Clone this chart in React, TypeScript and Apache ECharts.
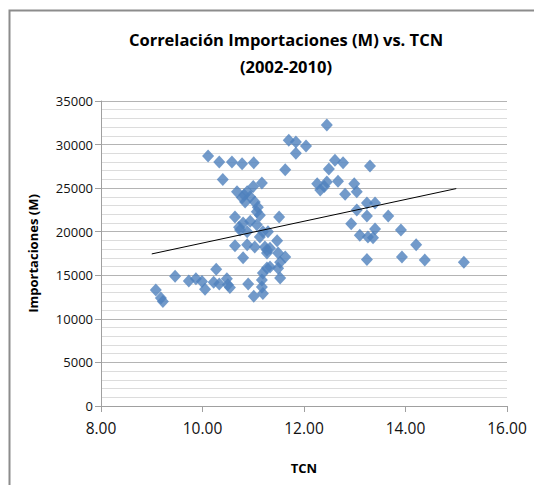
import React, { useEffect, useRef } from "react";
import * as echarts from "echarts";

const tcn: number[] = [
  9.08, 9.18, 9.22, 9.46, 9.73, 9.87, 9.99, 10.05, 10.27, 10.22,
  10.33, 10.48, 10.5, 10.54, 10.9, 11.01, 11.19, 11.17, 11.17, 11.19,
  11.27, 11.33, 11.49, 11.53, 11.53, 11.63, 11.49, 11.27, 11.27, 11.33,
  11.23, 11.47, 11.29, 11.51, 10.8, 10.64, 10.88, 11.03, 11.13, 10.74,
  10.88, 11.19, 11.07, 10.8, 10.94, 10.64, 11.13, 11.07, 11.09, 10.84,
  11.03, 10.82, 10.94, 10.88, 11.0, 11.17, 10.4, 10.11, 10.33, 10.58,
  10.78, 11.01, 11.63, 11.7, 11.84, 12.04, 11.84, 12.45, 12.61, 12.77,
  12.49, 13.3, 12.45, 12.67, 12.26, 12.32, 12.81, 12.99, 13.04, 13.24,
  13.4, 13.04, 13.24, 13.66, 12.93, 13.1, 13.26, 13.4, 13.36, 13.24,
  13.91, 14.21, 13.93, 14.38, 15.15, 12.4, 10.78, 10.68, 10.72
];
const importaciones: number[] = [
  13300, 12400, 12000, 14900, 14350, 14600, 14300, 13400, 15700, 14200,
  14000, 14600, 13900, 13600, 14000, 12600, 12900, 13650, 14450, 15250,
  15850, 15950, 15800, 14700, 16500, 17100, 17550, 17550, 17900, 18100,
  18250, 18950, 20000, 21700, 17000, 18400, 18500, 18250, 19400, 20200,
  20000, 20000, 20800, 21000, 21200, 21700, 21900, 22300, 22800, 23400,
  23400, 24200, 24000, 24600, 25200, 25600, 26000, 28700, 28000, 28000,
  27800, 27900, 27100, 30500, 30300, 29850, 29000, 32250, 28200, 27900,
  27200, 27550, 25700, 25800, 25500, 24800, 24300, 25500, 24600, 23300,
  23300, 22500, 21800, 21800, 20900, 19600, 19400, 20300, 19300, 16800,
  20200, 18500, 17100, 16750, 16500, 25200, 23900, 24600, 20500
];
const trendX: number[] = [9.0, 15.0];
const trendY: number[] = [17450, 24950];

const TITLE = "Correlación Importaciones (M) vs. TCN\n(2002-2010)";
const FONT = "'Open Sans', sans-serif";

export default function App() {
  const ref = useRef<HTMLDivElement>(null);
  useEffect(() => {
    if (!ref.current) return;
    const chart = echarts.init(ref.current, undefined, { renderer: "svg" });
    chart.setOption({
      animation: false,
      backgroundColor: "#ffffff",
      title: {
        text: TITLE,
        left: 281,
        textAlign: "center",
        top: 21,
        textStyle: {
          fontFamily: FONT,
          fontSize: 16.5,
          fontWeight: "bold",
          color: "#000",
          lineHeight: 27,
        },
      },
      graphic: [
        {
          type: "polyline",
          shape: { points: [[9.5, 485], [9.5, 10.5], [534, 10.5]] },
          style: { stroke: "#8c8c8c", lineWidth: 2, fill: "none" },
          silent: true,
        },
      ],
      grid: { left: 101, right: 27, top: 101, bottom: 79 },
      xAxis: {
        type: "value",
        min: 8,
        max: 16,
        interval: 2,
        name: "TCN",
        nameLocation: "middle",
        nameGap: 55,
        nameTextStyle: { fontFamily: FONT, fontSize: 13, fontWeight: "bold", color: "#000" },
        axisLine: { show: true, onZero: false, lineStyle: { color: "#a0a0a0" } },
        axisTick: { show: true, length: 6, lineStyle: { color: "#a0a0a0" } },
        axisLabel: {
          fontFamily: FONT,
          fontSize: 15.5,
          color: "#111",
          margin: 14,
          formatter: (v: number) => v.toFixed(2),
        },
        splitLine: { show: false },
      },
      yAxis: {
        type: "value",
        min: 0,
        max: 35000,
        interval: 5000,
        name: "Importaciones (M)",
        nameLocation: "middle",
        nameGap: 62,
        nameTextStyle: { fontFamily: FONT, fontSize: 13, fontWeight: "bold", color: "#000" },
        axisLine: { show: true, lineStyle: { color: "#a0a0a0" } },
        axisTick: { show: true, length: 6, lineStyle: { color: "#a0a0a0" } },
        axisLabel: {
          fontFamily: FONT,
          fontSize: 13,
          color: "#111",
          margin: 8,
          formatter: (v: number) => String(v),
        },
        splitLine: { show: true, lineStyle: { color: "#b4b4b4", width: 1 } },
        minorTick: { show: false, splitNumber: 5 },
        minorSplitLine: { show: true, lineStyle: { color: "#dcdcdc", width: 1 } },
      },
      series: [
        {
          type: "scatter",
          symbol: "diamond",
          symbolSize: [12, 13],
          itemStyle: { color: "#4f81bd" },
          data: tcn.map((x, i) => [x, importaciones[i]]),
          z: 3,
        },
        {
          type: "line",
          data: trendX.map((x, i) => [x, trendY[i]]),
          symbol: "none",
          lineStyle: { color: "#000", width: 1 },
          z: 4,
        },
      ],
    });
    return () => chart.dispose();
  }, []);
  return (
    <div
      ref={ref}
      style={{ position: "fixed", left: 0, top: 0, width: 534, height: 485 }}
    />
  );
}
